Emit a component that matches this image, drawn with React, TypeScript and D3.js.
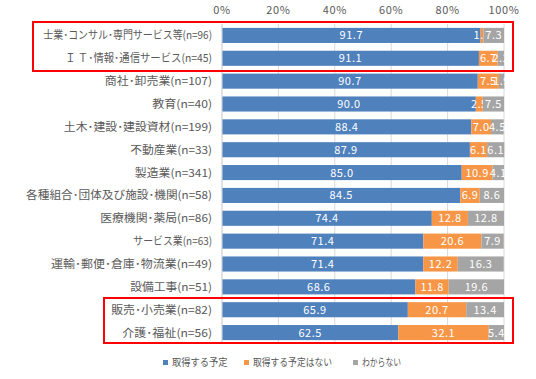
import React from "react";
import * as d3 from "d3";

const categories = [
  "士業･コンサル･専門サービス等(n=96)",
  "Ｉ Ｔ･情報･通信サービス(n=45)",
  "商社･卸売業(n=107)",
  "教育(n=40)",
  "土木･建設･建設資材(n=199)",
  "不動産業(n=33)",
  "製造業(n=341)",
  "各種組合･団体及び施設･機関(n=58)",
  "医療機関･薬局(n=86)",
  "サービス業(n=63)",
  "運輸･郵便･倉庫･物流業(n=49)",
  "設備工事(n=51)",
  "販売･小売業(n=82)",
  "介護･福祉(n=56)",
];
const planYes = [91.7, 91.1, 90.7, 90.0, 88.4, 87.9, 85.0, 84.5, 74.4, 71.4, 71.4, 68.6, 65.9, 62.5];
const planNo = [1.0, 6.7, 7.5, 2.5, 7.0, 6.1, 10.9, 6.9, 12.8, 20.6, 12.2, 11.8, 20.7, 32.1];
const unknown = [7.3, 2.2, 1.9, 7.5, 4.5, 6.1, 4.1, 8.6, 12.8, 7.9, 16.3, 19.6, 13.4, 5.4];
const seriesNames = ["取得する予定", "取得する予定はない", "わからない"];
const xTicks = [0, 20, 40, 60, 80, 100];

const colors = ["#4F81BD", "#F79646", "#A5A5A5"];
const font = "'Noto Sans CJK JP', 'Noto Sans', sans-serif";

// Width model of the reference UI font (narrow kana, wider dots and latin), in em
function textWidth(s: string, size: number, hira = 1): number {
  let w = 0;
  for (const ch of s) {
    if (/[\u30A0-\u30FF]/.test(ch)) w += 0.68;
    else if (/[\u3040-\u309F]/.test(ch)) w += hira;
    else if (ch === "･") w += 0.73;
    else if (ch === " ") w += 0.45;
    else if (/[\uFF01-\uFF5E]/.test(ch)) w += 0.64;
    else if (/[\x21-\x7E]/.test(ch)) w += 0.573;
    else w += 1;
  }
  return w * size;
}

export default function App() {
  const W = 536, H = 379;
  const x = d3.scaleLinear().domain([0, 100]).range([222, 504]);
  const y = d3.scaleBand<string>().domain(categories).range([24, 344]).paddingInner(0.34).paddingOuter(0.17);
  const series = [planYes, planNo, unknown];
  const legendX = [163, 244, 353];
  const labelRight = 212;

  return (
    <svg width={W} height={H} style={{ position: "absolute", left: 0, top: 0 }} fontFamily={font}>
      <rect width={W} height={H} fill="#fff" />
      {xTicks.map((t) => (
        <g key={t}>
          <line x1={x(t)} x2={x(t)} y1={24} y2={344} stroke="#D9D9D9" strokeWidth={1} />
          <text x={x(t)} y={14} textAnchor="middle" fontSize={11} fill="#595959" letterSpacing={0.6}>{t}%</text>
        </g>
      ))}
      {categories.map((c, i) => {
        let acc = 0;
        const by = y(c)!;
        const bh = y.bandwidth();
        const tw = textWidth(c, 11);
        return (
          <g key={c}>
            {series.map((s, k) => {
              const v = s[i];
              const x0 = x(acc);
              acc += v;
              const x1 = x(acc);
              return (
                <g key={k}>
                  <rect x={x0} y={by} width={x1 - x0} height={bh} fill={colors[k]} />
                  <text x={(x0 + x1) / 2} y={by + bh / 2 + 4} textAnchor="middle" fontSize={11} fill="#fff" letterSpacing={0.5}>
                    {v.toFixed(1)}
                  </text>
                </g>
              );
            })}
            <text x={labelRight - tw} y={by + bh / 2 + 4} textAnchor="start" fontSize={11} fill="#595959"
              textLength={tw} lengthAdjust="spacingAndGlyphs">
              {c}
            </text>
          </g>
        );
      })}
      <line x1={x(0)} x2={x(0)} y1={24} y2={344} stroke="#D9D9D9" strokeWidth={1} />
      <rect x={33} y={22} width={480} height={49} fill="none" stroke="#FF0000" strokeWidth={2} />
      <rect x={104} y={298} width={409} height={45} fill="none" stroke="#FF0000" strokeWidth={2} />
      {seriesNames.map((n, k) => (
        <g key={n}>
          <rect x={legendX[k]} y={360} width={5} height={5} fill={colors[k]} />
          <text x={legendX[k] + 9} y={366} fontSize={10} fill="#595959"
            textLength={textWidth(n, 10, 0.78)} lengthAdjust="spacingAndGlyphs">
            {n}
          </text>
        </g>
      ))}
    </svg>
  );
}
